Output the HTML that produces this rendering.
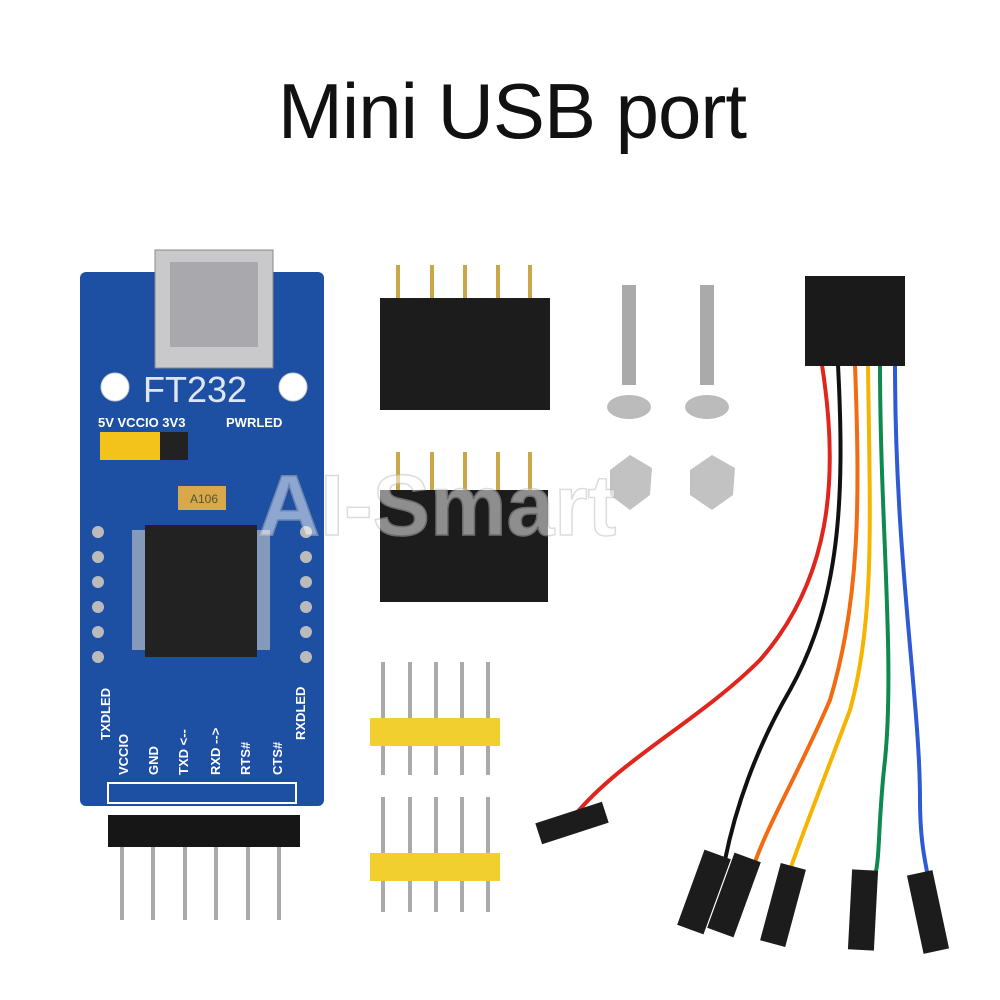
<!DOCTYPE html>
<html><head><style>
html,body{margin:0;padding:0;background:#fff;}
body{width:1000px;height:1000px;position:relative;overflow:hidden;font-family:"Liberation Sans",sans-serif;}
.t{position:absolute;left:12px;width:1000px;top:66px;text-align:center;font-size:78px;color:#111;font-weight:500;letter-spacing:-1px;}
</style></head><body>
<div class="t">Mini USB port</div>
<svg width="1000" height="1000" style="position:absolute;left:0;top:0">
<rect x="80" y="272" width="244" height="534" rx="6" fill="#1d4fa3"/>
<rect x="155" y="250" width="118" height="118" fill="#c9c9cc" stroke="#888"/>
<rect x="170" y="262" width="88" height="85" fill="#a9a9ad"/>
<circle cx="115" cy="387" r="14" fill="#fff" stroke="#ccc"/>
<circle cx="293" cy="387" r="14" fill="#fff" stroke="#ccc"/>
<text x="143" y="402" font-size="36" fill="#dfe6f3">FT232</text>
<text x="98" y="427" font-size="13" fill="#fff" font-weight="bold">5V VCCIO 3V3</text>
<text x="226" y="427" font-size="13" fill="#fff" font-weight="bold">PWRLED</text>
<rect x="100" y="432" width="60" height="28" fill="#f3c21b"/>
<rect x="160" y="432" width="28" height="28" fill="#222"/>
<rect x="178" y="486" width="48" height="24" fill="#d9a84a"/>
<text x="190" y="503" font-size="12" fill="#553">A106</text>
<rect x="145" y="525" width="112" height="132" fill="#222"/>
<g fill="#ccc">
<rect x="132" y="530" width="13" height="120" opacity=".6"/>
<rect x="257" y="530" width="13" height="120" opacity=".6"/>
</g>
<g fill="#bbb">
<circle cx="98" cy="532" r="6"/><circle cx="98" cy="557" r="6"/><circle cx="98" cy="582" r="6"/><circle cx="98" cy="607" r="6"/><circle cx="98" cy="632" r="6"/><circle cx="98" cy="657" r="6"/>
<circle cx="306" cy="532" r="6"/><circle cx="306" cy="557" r="6"/><circle cx="306" cy="582" r="6"/><circle cx="306" cy="607" r="6"/><circle cx="306" cy="632" r="6"/><circle cx="306" cy="657" r="6"/>
</g>
<g font-size="13" fill="#fff" font-weight="bold">
<text transform="translate(110,740) rotate(-90)">TXDLED</text>
<text transform="translate(305,740) rotate(-90)">RXDLED</text>
<text transform="translate(128,775) rotate(-90)">VCCIO</text>
<text transform="translate(158,775) rotate(-90)">GND</text>
<text transform="translate(188,775) rotate(-90)">TXD &lt;--</text>
<text transform="translate(220,775) rotate(-90)">RXD --&gt;</text>
<text transform="translate(250,775) rotate(-90)">RTS#</text>
<text transform="translate(282,775) rotate(-90)">CTS#</text>
</g>
<rect x="108" y="783" width="188" height="20" fill="none" stroke="#fff" stroke-width="2"/>
<rect x="108" y="815" width="192" height="32" fill="#161616"/>
<g stroke="#aaa" stroke-width="4">
<line x1="122" y1="847" x2="122" y2="920"/><line x1="153" y1="847" x2="153" y2="920"/><line x1="185" y1="847" x2="185" y2="920"/><line x1="216" y1="847" x2="216" y2="920"/><line x1="248" y1="847" x2="248" y2="920"/><line x1="279" y1="847" x2="279" y2="920"/>
</g>
<g stroke="#c9a647" stroke-width="4">
<line x1="398" y1="265" x2="398" y2="300"/><line x1="432" y1="265" x2="432" y2="300"/><line x1="465" y1="265" x2="465" y2="300"/><line x1="498" y1="265" x2="498" y2="300"/><line x1="530" y1="265" x2="530" y2="300"/>
<line x1="398" y1="452" x2="398" y2="492"/><line x1="432" y1="452" x2="432" y2="492"/><line x1="465" y1="452" x2="465" y2="492"/><line x1="498" y1="452" x2="498" y2="492"/><line x1="530" y1="452" x2="530" y2="492"/>
</g>
<rect x="380" y="298" width="170" height="112" fill="#1c1c1c"/>
<rect x="380" y="490" width="168" height="112" fill="#1c1c1c"/>
<rect x="622" y="285" width="14" height="100" fill="#aaa"/>
<rect x="700" y="285" width="14" height="100" fill="#aaa"/>
<ellipse cx="629" cy="407" rx="22" ry="12" fill="#bbb"/>
<ellipse cx="707" cy="407" rx="22" ry="12" fill="#bbb"/>
<polygon points="610,470 630,455 652,468 650,495 630,510 610,495" fill="#c2c2c2"/>
<polygon points="690,470 712,455 735,468 733,495 712,510 690,495" fill="#c2c2c2"/>
<g stroke="#aaa" stroke-width="4">
<line x1="383" y1="662" x2="383" y2="775"/><line x1="410" y1="662" x2="410" y2="775"/><line x1="436" y1="662" x2="436" y2="775"/><line x1="462" y1="662" x2="462" y2="775"/><line x1="488" y1="662" x2="488" y2="775"/>
<line x1="383" y1="797" x2="383" y2="912"/><line x1="410" y1="797" x2="410" y2="912"/><line x1="436" y1="797" x2="436" y2="912"/><line x1="462" y1="797" x2="462" y2="912"/><line x1="488" y1="797" x2="488" y2="912"/>
</g>
<rect x="370" y="718" width="130" height="28" fill="#f0cf2e"/>
<rect x="370" y="853" width="130" height="28" fill="#f0cf2e"/>
<g fill="none" stroke-width="4">
<path d="M822,365 C840,480 830,580 760,660 C700,720 620,760 575,815" stroke="#e0261c"/>
<path d="M838,365 C845,500 840,600 790,690 C755,750 735,810 725,860" stroke="#111"/>
<path d="M855,365 C860,500 860,600 830,700 C800,770 770,820 755,862" stroke="#f36b10"/>
<path d="M868,365 C870,520 875,620 850,710 C820,790 800,840 790,870" stroke="#f5b400"/>
<path d="M880,365 C880,520 895,660 885,760 C878,820 880,860 875,875" stroke="#0e8a50"/>
<path d="M895,365 C895,560 920,700 920,800 C920,850 928,870 928,880" stroke="#2f5ad6"/>
</g>
<rect x="805" y="276" width="100" height="90" fill="#1a1a1a"/>
<g fill="#1c1c1c">
<rect x="537" y="812" width="70" height="22" transform="rotate(-18 572 823)"/>
<rect x="690" y="852" width="28" height="80" transform="rotate(20 704 892)"/>
<rect x="720" y="855" width="28" height="80" transform="rotate(20 734 895)"/>
<rect x="770" y="865" width="26" height="80" transform="rotate(15 783 905)"/>
<rect x="850" y="870" width="26" height="80" transform="rotate(3 863 910)"/>
<rect x="915" y="872" width="26" height="80" transform="rotate(-12 928 912)"/>
</g>
<text x="258" y="535" font-size="86" fill="#fff" opacity=".5" stroke="#bbb" stroke-width="1.5" font-weight="bold">AI-Smart</text>
</svg>
</body></html>
